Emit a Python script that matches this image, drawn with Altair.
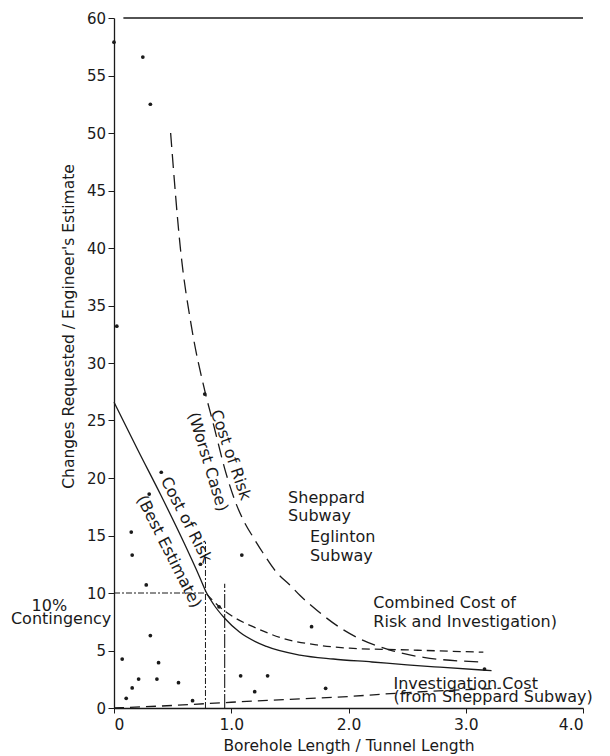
import altair as alt
import pandas as pd

# ---- data ----
best_x = [0.0, 0.2, 0.4, 0.6, 0.73, 0.79, 0.85, 0.944, 1.07, 1.3, 1.585, 1.87, 2.2, 2.5, 2.78, 3.22]
best_y = [26.6, 22.5, 18.5, 14.3, 11.4, 10.0, 9.0, 7.8, 6.6, 5.35, 4.6, 4.26, 4.0, 3.75, 3.55, 3.25]

worst_x = [0.483, 0.568, 0.66, 0.774, 0.85, 0.95, 1.04, 1.12, 1.19, 1.27, 1.386, 1.5, 1.585, 1.73, 1.956, 2.1, 2.355, 2.64, 3.15]
worst_y = [50.0, 39.8, 33.2, 27.6, 24.6, 20.6, 17.8, 16.0, 14.8, 13.5, 11.8, 10.7, 9.8, 8.5, 6.8, 6.0, 5.04, 4.4, 4.0]

comb_x = [0.79, 0.9, 1.015, 1.186, 1.44, 1.73, 2.01, 2.5, 3.15]
comb_y = [9.9, 8.8, 7.94, 7.07, 6.06, 5.48, 5.2, 5.05, 4.85]

inv_x = [0.0, 0.5, 1.0, 1.5, 2.0, 2.4, 3.3]
inv_y = [0.0, 0.22, 0.5, 0.75, 1.0, 1.28, 1.72]

pts_x = [0.0, 0.246, 0.31, 0.024, 0.774, 0.403, 0.3, 0.147, 0.155, 0.275, 0.737, 1.09, 0.896,
         0.31, 0.07, 0.104, 0.155, 0.21, 0.38, 0.366, 0.55, 0.67, 1.08, 1.2, 1.31, 1.685, 1.805, 3.16]
pts_y = [57.9, 56.6, 52.5, 33.2, 27.3, 20.5, 18.6, 15.3, 13.3, 10.7, 12.5, 13.3, 8.8,
         6.3, 4.26, 0.84, 1.74, 2.52, 3.94, 2.52, 2.2, 0.64, 2.8, 1.42, 2.8, 7.07, 1.71, 3.39]

# reference lines: x, x2, y, y2
ref_x = [0.0, 0.78]
ref_x2 = [0.78, 0.78]
ref_y = [10.0, 0.0]
ref_y2 = [10.0, 14.5]

ref2_x = [0.944]
ref2_y = [0.0]
ref2_y2 = [10.8]

top_x = [0.08]
top_x2 = [4.0]
top_y = [60.0]

# centred annotations (some rotated)
c_text = ["10%", "Contingency", "Cost of Risk", "(Best Estimate)", "Cost of Risk", "(Worst Case)"]
c_x = [-0.551, -0.451, 0.617, 0.468, 0.995, 0.80]
c_y = [8.89, 7.74, 16.35, 13.6, 22.0, 21.4]
c_angle = [0, 0, 63, 63, 71, 73]

# left-aligned annotations
l_text = ["Sheppard", "Subway", "Eglinton", "Subway", "Combined Cost of",
          "Risk and Investigation)", "Investigation Cost", "(from Sheppard Subway)"]
l_x = [1.485, 1.485, 1.671, 1.671, 2.212, 2.212, 2.383, 2.383]
l_y = [18.23, 16.67, 14.84, 13.2, 9.1, 7.5, 2.09, 0.96]

x_ticks = [0, 1, 2, 3, 4]
y_ticks = list(range(0, 61, 5))

FONT = "DejaVu Sans"
INK = "#1a1a1a"

xs = alt.Scale(domain=[0, 4], nice=False)
ys = alt.Scale(domain=[0, 60], nice=False)

x_axis = alt.Axis(values=x_ticks,
                  labelExpr="datum.value == 0 ? '0' : format(datum.value, '.1f')",
                  grid=False, tickSize=5, labelPadding=4, labelFontSize=15.5,
                  titleFontSize=15.5, titleFontWeight="normal", titleY=37,
                  titleBaseline="middle", domainColor=INK, tickColor=INK,
                  labelColor=INK, titleColor=INK, labelFont=FONT, titleFont=FONT,
                  domainWidth=1.3)
y_axis = alt.Axis(values=y_ticks,
                  grid=False, tickSize=6, labelPadding=2.5, labelFontSize=15,
                  titleFontSize=15.5, titleFontWeight="normal", titleX=-46, titleY=308,
                  titleBaseline="middle", domainColor=INK, tickColor=INK,
                  labelColor=INK, titleColor=INK, labelFont=FONT, titleFont=FONT,
                  domainWidth=1.3)


def X(f="x"):
    return alt.X(f + ":Q", scale=xs, axis=x_axis, title="Borehole Length / Tunnel Length")


def Y(f="y"):
    return alt.Y(f + ":Q", scale=ys, axis=y_axis, title="Changes Requested / Engineer's Estimate")


def line_layer(xv, yv, dash=None):
    df = pd.DataFrame({"x": xv, "y": yv, "i": range(len(xv))})
    kw = dict(color=INK, strokeWidth=1.3, interpolate="monotone")
    if dash:
        kw["strokeDash"] = dash
    return alt.Chart(df).mark_line(**kw).encode(x=X(), y=Y(), order="i:Q")


best = line_layer(best_x, best_y)
worst = line_layer(worst_x, worst_y, dash=[14, 7])
comb = line_layer(comb_x, comb_y, dash=[8, 5])
inv = line_layer(inv_x, inv_y, dash=[10, 6])

pts = alt.Chart(pd.DataFrame({"x": pts_x, "y": pts_y})).mark_circle(
    color=INK, size=14, opacity=1).encode(x=X(), y=Y())

ref = alt.Chart(pd.DataFrame({"x": ref_x, "x2": ref_x2, "y": ref_y, "y2": ref_y2})).mark_rule(
    color=INK, strokeWidth=1, strokeDash=[6, 2, 2, 2]).encode(
    x=X(), x2="x2:Q", y=Y(), y2="y2:Q")

ref2 = alt.Chart(pd.DataFrame({"x": ref2_x, "y": ref2_y, "y2": ref2_y2})).mark_rule(
    color=INK, strokeWidth=1.1, strokeDash=[14, 2, 2, 2]).encode(
    x=X(), y=Y(), y2="y2:Q")

top = alt.Chart(pd.DataFrame({"x": top_x, "x2": top_x2, "y": top_y})).mark_rule(
    color=INK, strokeWidth=1.3).encode(x=X(), x2="x2:Q", y=Y())

ctext = alt.Chart(pd.DataFrame({"t": c_text, "x": c_x, "y": c_y, "a": c_angle})).mark_text(
    font=FONT, fontSize=16, color=INK, align="center", baseline="middle").encode(
    x=X(), y=Y(), text="t:N", angle=alt.Angle("a:Q", scale=None))

ltext = alt.Chart(pd.DataFrame({"t": l_text, "x": l_x, "y": l_y})).mark_text(
    font=FONT, fontSize=16, color=INK, align="left", baseline="middle").encode(
    x=X(), y=Y(), text="t:N")

chart = alt.layer(best, worst, comb, inv, ref, ref2, top, pts, ctext, ltext).properties(
    width=469, height=690, autosize="none",
    padding={"left": 106, "top": 10, "right": 19, "bottom": 46},
    background="white",
).configure_view(stroke=None)

chart.save("out.html", embed_options={"renderer": "svg", "actions": False})
